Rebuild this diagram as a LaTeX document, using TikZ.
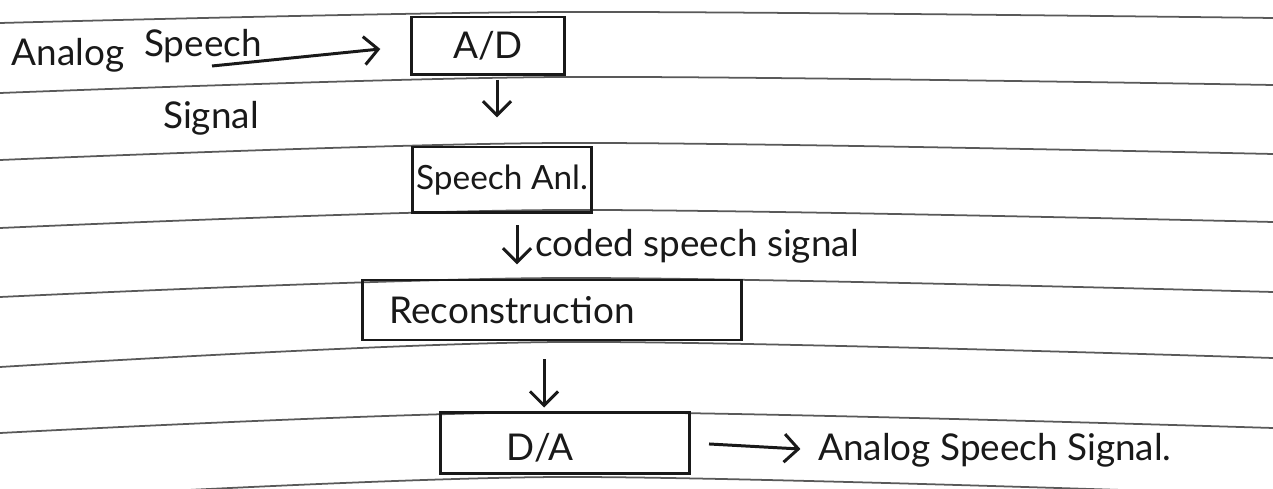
\documentclass[tikz,border=0pt]{standalone}
\usepackage{fontspec}
\setmainfont{Lato}
\usetikzlibrary{arrows.meta,calc}
\begin{document}
\begin{tikzpicture}[x=0.02cm,y=-0.02cm,
  ink/.style={line width=1.7pt,black!90},
  blk/.style={ink,draw,rectangle,inner sep=0pt,font=\fontsize{21}{24}\selectfont},
  txt/.style={font=\fontsize{21}{24}\selectfont,inner sep=0pt,text=black!90},
  arr/.style={ink,-{Straight Barb[length=8pt,width=16pt,line width=1.7pt]}},
  rule/.style={line width=1pt,black!65}]
\useasboundingbox (0,0) rectangle (1273,489);
\fill[white] (0,0) rectangle (1273,489);

% ruled notebook lines
\begin{scope}
  \clip (0,0) rectangle (1273,489);
  \foreach \yl/\ym/\yr in {23/12/18, 93/77/85, 160/143/154, 228/210/222,
                           297/278/292, 367/342/358, 433/412/428, 500/477/495}
    \draw[rule] plot[smooth] coordinates {(0,\yl) (560,\ym) (1273,\yr)};
\end{scope}

% input label
\node[txt] (inA) at (68,55) {Analog};
\node[txt] (inB) at (203,46) {Speech};
\node[txt] (inC) at (211,118) {Signal};

% processing chain
\node[blk,minimum width=3.06cm,minimum height=1.16cm] (AD) at (488,46) {A/D};
\node[blk,minimum width=3.6cm,minimum height=1.32cm,font=\fontsize{19}{22}\selectfont] (SA) at (502,180) {Speech Anl.};
\node[blk,minimum width=7.6cm,minimum height=1.2cm] (RC) at (552,310) {};
\node[txt] (RCt) at (512,310) {Reconstruction};
\node[blk,minimum width=5.0cm,minimum height=1.22cm] (DA) at (565,443) {};
\node[txt] (DAt) at (540,448) {D/A};

% output and signal labels
\node[txt,anchor=west] (out) at (818,450) {Analog Speech Signal.};
\node[txt,anchor=west] (coded) at (535,246) {coded speech signal};

% connectors
\coordinate (s0) at (212,66);
\draw[arr,shorten >=17pt] (s0) -- (AD.west);
\draw[arr,shorten <=2pt,shorten >=16pt] (AD.south -| 497,0) -- (SA.north -| 497,0);
\draw[arr,shorten <=6pt,shorten >=8pt] (SA.south -| 517,0) -- (RC.north -| 517,0);
\draw[arr,shorten <=10pt,shorten >=2pt] (RC.south -| 544,0) -- (DA.north -| 544,0);
\draw[arr,shorten <=10pt,shorten >=10pt] (DA.east) -- (out.west);
\end{tikzpicture}
\end{document}
